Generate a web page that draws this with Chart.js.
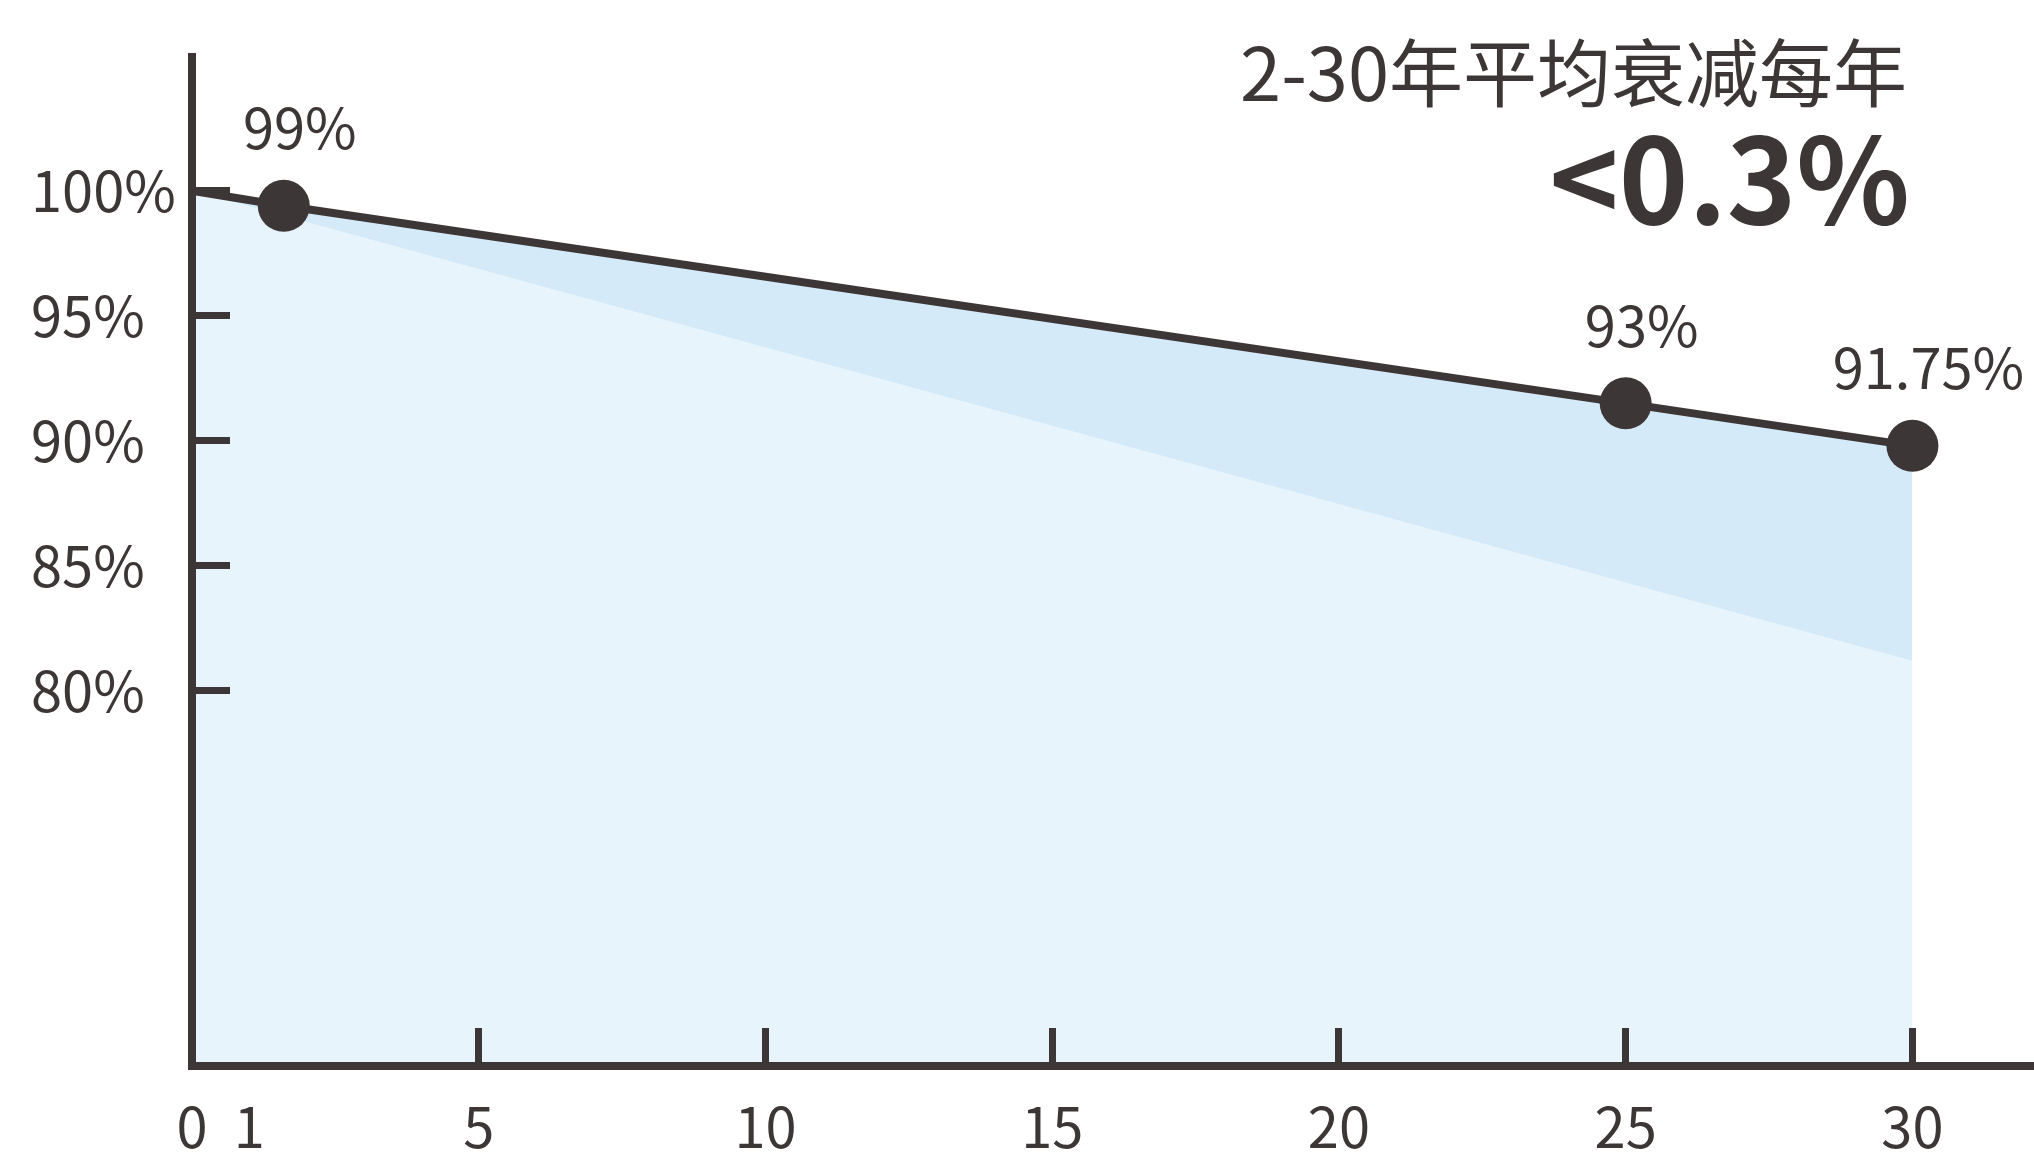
<!DOCTYPE html>
<html lang="zh">
<head>
    <meta charset="UTF-8">
    <title>组件功率衰减</title>
    <script src="https://cdn.jsdelivr.net/npm/chart.js"></script>
    <style>
        body { margin: 0; background: #fff; overflow: hidden; }
        #wrap { position: relative; width: 2034px; height: 1152px; }
        #myChart { display: block; }
        .note { position: absolute; color: #3d3636; font-family: "Noto Sans CJK SC", sans-serif; line-height: 1; white-space: nowrap; }
        #title1 { top: 32px; right: 127px; font-size: 74px; }
        #title2 { top: 114px; right: 124px; font-size: 118px; font-weight: 700; }
    </style>
</head>
<body>
<div id="wrap">
    <canvas id="myChart" width="2034" height="1152"></canvas>
    <div class="note" id="title1">2-30年平均衰减每年</div>
    <div class="note" id="title2">&lt;0.3%</div>
</div>
<script>
    // values
    const years = [0, 1.6, 25, 30];
    const power = [100, 99.4, 91.5, 89.8];
    const pointLabels = ['', '99%', '93%', '91.75%'];
    const floorYears = [0, 30];
    const floorPower = [100, 81.2];
    const xTicks = [0, 1, 5, 10, 15, 20, 25, 30];
    const xTickMarks = [5, 10, 15, 20, 25, 30];
    const yTicks = [80, 85, 90, 95, 100];

    const dark = '#3d3636';
    const font = { family: '"Noto Sans CJK SC", sans-serif', size: 56 };

    const labelPlugin = {
        id: 'pointLabels',
        afterDatasetsDraw(chart) {
            const ctx = chart.ctx;
            const meta = chart.getDatasetMeta(0);
            ctx.save();
            ctx.fillStyle = dark;
            ctx.font = font.size + 'px ' + font.family;
            ctx.textAlign = 'center';
            ctx.textBaseline = 'middle';
            meta.data.forEach((pt, i) => {
                if (pointLabels[i]) ctx.fillText(pointLabels[i], pt.x + 16, pt.y - 78);
            });
            ctx.restore();
        }
    };

    const ctx = document.getElementById('myChart').getContext('2d');
    const myChart = new Chart(ctx, {
        type: 'line',
        data: {
            datasets: [
                {
                    label: '功率',
                    data: years.map((x, i) => ({ x: x, y: power[i] })),
                    borderColor: dark,
                    borderWidth: 8,
                    backgroundColor: '#d4eaf8',
                    fill: 1,
                    pointRadius: years.map((x, i) => pointLabels[i] ? 26 : 0),
                    pointBackgroundColor: dark,
                    pointBorderWidth: 0,
                    clip: false,
                    order: 0
                },
                {
                    label: '质保',
                    data: floorYears.map((x, i) => ({ x: x, y: floorPower[i] })),
                    borderWidth: 0,
                    borderColor: 'transparent',
                    backgroundColor: '#e8f4fc',
                    fill: 'start',
                    pointRadius: 0,
                    order: 1
                }
            ]
        },
        options: {
            responsive: false,
            devicePixelRatio: 1,
            animation: false,
            layout: { autoPadding: false, padding: { left: 31, top: 57, right: 0, bottom: 0 } },
            plugins: { legend: { display: false }, tooltip: { enabled: false } },
            scales: {
                x: {
                    type: 'linear',
                    min: 0,
                    max: 32.12,
                    afterBuildTicks: s => { s.ticks = xTicks.map(v => ({ value: v })); },
                    afterFit: s => { s.height = 86; s.paddingLeft = 0; s.paddingRight = 0; },
                    border: { display: true, color: dark, width: 8, z: 1 },
                    grid: {
                        z: 1,
                        drawOnChartArea: false,
                        tickLength: -38,
                        tickWidth: 7,
                        tickColor: c => xTickMarks.includes(c.tick.value) ? dark : 'transparent'
                    },
                    ticks: { color: dark, font: font, padding: 65, maxRotation: 0, autoSkip: false }
                },
                y: {
                    min: 65,
                    max: 105.35,
                    afterBuildTicks: s => { s.ticks = yTicks.map(v => ({ value: v })); },
                    afterFit: s => { s.width = 161; s.paddingTop = 0; s.paddingBottom = 0; },
                    border: { display: true, color: dark, width: 8, z: 1 },
                    grid: {
                        z: 1,
                        drawOnChartArea: false,
                        tickLength: -38,
                        tickWidth: 7,
                        tickColor: dark
                    },
                    ticks: {
                        color: dark,
                        font: font,
                        crossAlign: 'far',
                        callback: v => v + '%'
                    }
                }
            }
        },
        plugins: [labelPlugin]
    });
</script>
</body>
</html>
